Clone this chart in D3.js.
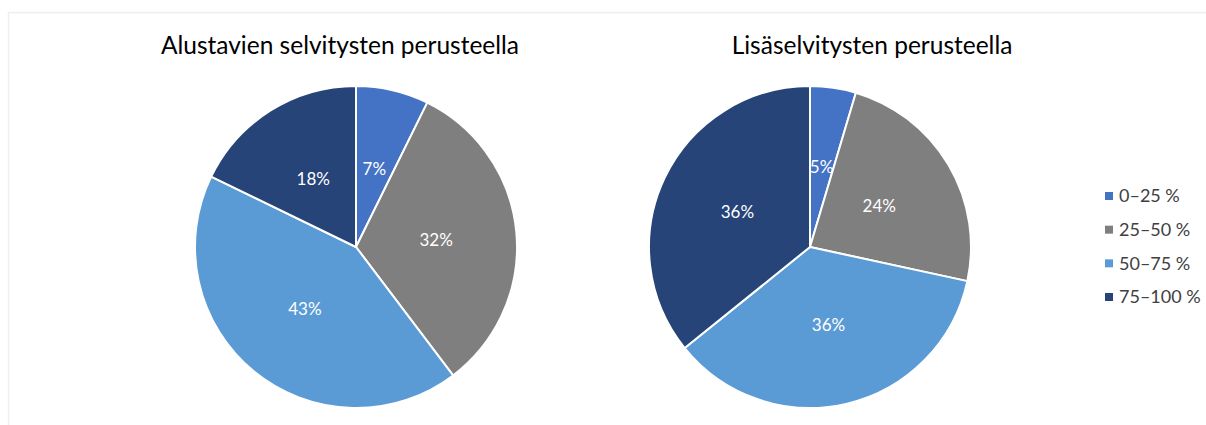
<!DOCTYPE html>
<html><head><meta charset="utf-8">
<script src="https://cdn.jsdelivr.net/npm/d3@7"></script>
<style>body{margin:0;background:#fff}svg{display:block}text{font-family:Lato,"Open Sans",sans-serif}</style>
</head><body>
<svg id="c" width="1206" height="425"></svg>
<script>
const categories = ["0–25 %", "25–50 %", "50–75 %", "75–100 %"];
const colors = ["#4472C4", "#7F7F7F", "#5B9BD5", "#264478"];
const titles = ["Alustavien selvitysten perusteella", "Lisäselvitysten perusteella"];
const valuesLeft = [7.3, 32.4, 42.5, 17.8];
const valuesRight = [4.6, 23.8, 35.8, 35.8];

const svg = d3.select("#c");
svg.append("rect").attr("x", 8.5).attr("y", 12.5).attr("width", 1220).attr("height", 430)
  .attr("fill", "none").attr("stroke", "#eeeeee").attr("stroke-width", 1.5);

const R = 161;
const pies = [
  {vals: valuesLeft, cx: 356, cy: 247, title: titles[0], tx: 340},
  {vals: valuesRight, cx: 810, cy: 247, title: titles[1], tx: 872}
];
const pie = d3.pie().sort(null).value(d => d);
const arc = d3.arc().innerRadius(0).outerRadius(R);
const lab = d3.arc().innerRadius(R * 0.5).outerRadius(R * 0.5);
const color = d3.scaleOrdinal().domain(d3.range(categories.length)).range(colors);

pies.forEach(p => {
  svg.append("text").attr("x", p.tx).attr("y", 54).attr("text-anchor", "middle")
    .attr("font-size", 24.5).attr("fill", "#000").text(p.title);
  const g = svg.append("g").attr("transform", `translate(${p.cx},${p.cy})`);
  const arcs = pie(p.vals);
  g.selectAll("path").data(arcs).join("path")
    .attr("d", arc).attr("fill", (d, i) => color(i))
    .attr("stroke", "#fff").attr("stroke-width", 2).attr("stroke-linejoin", "round");
  g.selectAll("text").data(arcs).join("text")
    .attr("transform", d => `translate(${lab.centroid(d)})`)
    .attr("text-anchor", "middle").attr("dy", "0.36em")
    .attr("font-size", 17).attr("fill", "#fff")
    .text(d => Math.round(d.data) + "%");
});

const leg = svg.append("g");
const ly = d3.scalePoint().domain(categories).range([196, 297]);
categories.forEach((c, i) => {
  leg.append("rect").attr("x", 1105).attr("y", ly(c) - 4).attr("width", 8).attr("height", 8).attr("fill", colors[i]);
  leg.append("text").attr("x", 1119).attr("y", ly(c)).attr("dy", "0.36em")
    .attr("font-size", 18).attr("fill", "#404040").text(c);
});
</script>
</body></html>
